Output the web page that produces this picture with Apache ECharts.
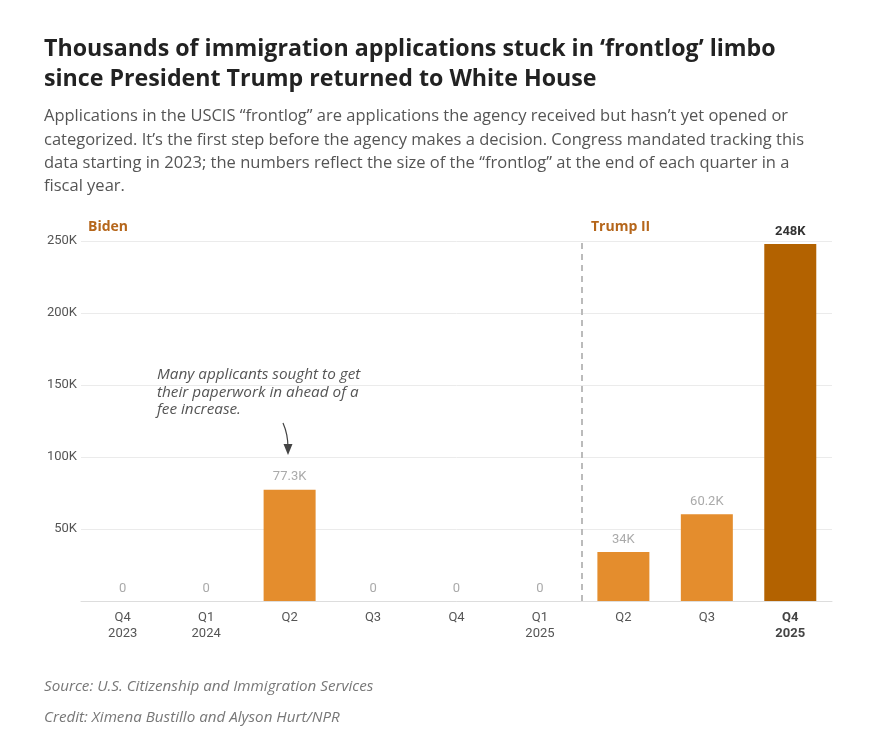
<!DOCTYPE html>
<html>
<head>
<meta charset="utf-8">
<script src="https://cdn.jsdelivr.net/npm/echarts@6/dist/echarts.min.js"></script>
<style>
  html, body { margin: 0; padding: 0; background: #fff; }
  #main { width: 891px; height: 751px; }
</style>
</head>
<body>
<div id="main"></div>
<script>
var quarters = ['Q4', 'Q1', 'Q2', 'Q3', 'Q4', 'Q1', 'Q2', 'Q3', 'Q4'];
var years = ['2023', '2024', '', '', '', '2025', '', '', '2025'];
var frontlog = [0, 0, 77300, 0, 0, 0, 34000, 60200, 248000];
var valueLabels = ['0', '0', '77.3K', '0', '0', '0', '34K', '60.2K', '248K'];
var yTicks = [0, 50000, 100000, 150000, 200000, 250000];
var eraSplit = 5.5; // between Q1 2025 and Q2 2025

var orange = '#e48d2d';
var dark = '#b36200';
var font = 'Roboto, "Noto Sans", sans-serif';
var textFont = '"Open Sans", "Noto Sans", sans-serif';
var last = frontlog.length - 1;

var myChart = echarts.init(document.getElementById('main'));

var cats = quarters.map(function (q, i) {
  return years[i] ? q + '\n' + years[i] : q;
});

var barData = frontlog.map(function (v, i) {
  return {
    value: v,
    itemStyle: { color: i === last ? dark : orange },
    label: i === last ? { color: '#333', fontWeight: 'bold' } : {}
  };
});

var option = {
  backgroundColor: '#fff',
  animation: false,
  textStyle: { fontFamily: font },
  grid: { left: 81, right: 59, top: 241, bottom: 150 },
  xAxis: [{
    type: 'category',
    data: cats,
    axisLine: { lineStyle: { color: '#ddd', width: 1 } },
    axisTick: { show: false },
    axisLabel: {
      margin: 9,
      color: '#555',
      fontSize: 13,
      lineHeight: 16,
      fontFamily: font,
      formatter: function (val, idx) {
        return idx === last ? '{b|' + val.replace('\n', '}\n{b|') + '}' : val;
      },
      rich: { b: { fontWeight: 'bold', color: '#444', fontSize: 13, lineHeight: 16 } }
    }
  }, {
    type: 'value',
    min: -0.5,
    max: frontlog.length - 0.5,
    show: false
  }],
  yAxis: [{
    type: 'value',
    min: 0,
    max: yTicks[yTicks.length - 1],
    interval: 50000,
    axisLine: { show: false },
    axisTick: { show: false },
    splitLine: { lineStyle: { color: '#ebebeb', width: 1 } },
    axisLabel: {
      margin: 4,
      color: '#555',
      fontSize: 13,
      fontFamily: font,
      formatter: function (v) { return v === 0 ? '' : (v / 1000) + 'K'; }
    }
  }],
  series: [{
    type: 'bar',
    data: barData,
    barWidth: 52,
    label: {
      show: true,
      position: 'top',
      distance: 6,
      color: '#aaa',
      fontSize: 13,
      fontFamily: font,
      formatter: function (p) { return valueLabels[p.dataIndex]; }
    }
  }, {
    type: 'scatter',
    xAxisIndex: 1,
    data: [],
    markLine: {
      silent: true,
      symbol: 'none',
      label: { show: false },
      lineStyle: { type: [6, 5], color: '#bbb', width: 2 },
      data: [{ xAxis: eraSplit }]
    }
  }],
  graphic: [
    {
      type: 'text', left: 44, top: 34,
      style: {
        text: 'Thousands of immigration applications stuck in ‘frontlog’ limbo\nsince President Trump returned to White House',
        font: 'bold 23.2px ' + textFont, fill: '#222', lineHeight: 30
      }
    },
    {
      type: 'text', left: 44, top: 105,
      style: {
        text: 'Applications in the USCIS “frontlog” are applications the agency received but hasn’t yet opened or\ncategorized. It’s the first step before the agency makes a decision. Congress mandated tracking this\ndata starting in 2023; the numbers reflect the size of the “frontlog” at the end of each quarter in a\nfiscal year.',
        font: '16.5px ' + textFont, fill: '#555', lineHeight: 23.3
      }
    },
    {
      type: 'text', left: 88, top: 220,
      style: { text: 'Biden', font: 'bold 14px ' + textFont, fill: '#b5661b' }
    },
    {
      type: 'text', left: 591, top: 220,
      style: { text: 'Trump II', font: 'bold 14px ' + textFont, fill: '#b5661b' }
    },
    {
      type: 'text', left: 157, top: 366,
      style: {
        text: 'Many applicants sought to get\ntheir paperwork in ahead of a\nfee increase.',
        font: 'italic 15.3px ' + textFont, fill: '#555', lineHeight: 17.5
      }
    },
    {
      type: 'bezierCurve',
      shape: { x1: 283, y1: 423, cpx1: 287, cpy1: 432, cpx2: 288, cpy2: 440, x2: 288, y2: 448 },
      style: { stroke: '#444', lineWidth: 1.2, fill: null }
    },
    {
      type: 'polygon',
      shape: { points: [[283.5, 444], [292.5, 444], [288, 455]] },
      style: { fill: '#444' }
    },
    {
      type: 'text', left: 44, top: 679,
      style: { text: 'Source: U.S. Citizenship and Immigration Services', font: 'italic 15.2px ' + textFont, fill: '#777' }
    },
    {
      type: 'text', left: 44, top: 710,
      style: { text: 'Credit: Ximena Bustillo and Alyson Hurt/NPR', font: 'italic 15.2px ' + textFont, fill: '#777' }
    }
  ]
};

option && myChart.setOption(option);
</script>
</body>
</html>
